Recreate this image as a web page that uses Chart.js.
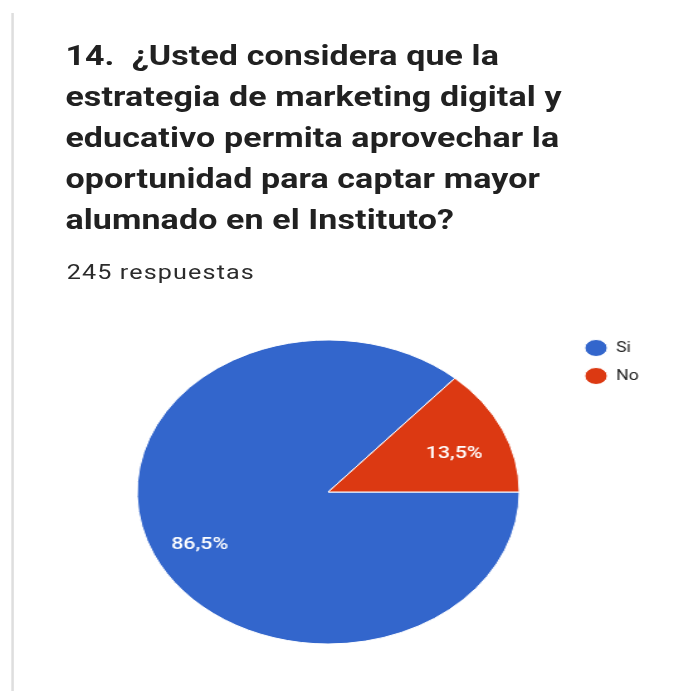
<!DOCTYPE html>
<html>
<head>
<meta charset="utf-8">
<script src="https://cdn.jsdelivr.net/npm/chart.js@4.4.0/dist/chart.umd.min.js"></script>
<style>
  html, body { margin: 0; padding: 0; background: #ffffff; overflow: hidden; }
  #wrap { position: absolute; left: 0; top: 0; width: 544px; height: 691px;
          transform: scale(1.2574, 1); transform-origin: 0 0; }
  #rule { position: absolute; left: 9.4px; top: 13px; width: 1.6px; height: 678px; background: #dedede; }
  #title { position: absolute; left: 52px; top: 36px; margin: 0; white-space: nowrap;
           font-family: Roboto, sans-serif; font-weight: 700; font-size: 27px; line-height: 41px; letter-spacing: 0.1px; color: #212121; }
  #sub { position: absolute; left: 53px; top: 262px; margin: 0; white-space: nowrap;
         font-family: Roboto, sans-serif; font-weight: 400; font-size: 20px; line-height: 20px; letter-spacing: 0.9px; color: #2b2b2b; }
  #box { position: absolute; left: 0; top: 300px; width: 544px; height: 391px; }
</style>
</head>
<body>
<div id="wrap">
  <div id="rule"></div>
  <h1 id="title">14.&nbsp; ¿Usted considera que la<br>estrategia de marketing digital y<br>educativo permita aprovechar la<br>oportunidad para captar mayor<br>alumnado en el Instituto?</h1>
  <p id="sub">245 respuestas</p>
  <div id="box"><canvas id="c"></canvas></div>
</div>
<script>
const categories = ['Si', 'No'];
const responses = [212, 33];
const sliceColors = ['#3366CC', '#DC3912'];

const total = responses.reduce((a, b) => a + b, 0);
const pctText = v => (v / total * 100).toFixed(1).replace('.', ',') + '%';

const sliceLabels = {
  id: 'sliceLabels',
  afterDatasetsDraw(chart) {
    const ctx = chart.ctx;
    const meta = chart.getDatasetMeta(0);
    meta.data.forEach((arc, i) => {
      const p = arc.getProps(['x', 'y', 'startAngle', 'endAngle', 'outerRadius'], true);
      const mid = (p.startAngle + p.endAngle) / 2;
      const r = p.outerRadius * 0.73;
      ctx.save();
      ctx.fillStyle = '#ffffff';
      ctx.font = '500 17px Roboto, sans-serif';
      ctx.textAlign = 'center';
      ctx.textBaseline = 'middle';
      ctx.fillText(pctText(responses[i]), p.x + Math.cos(mid) * r - 1, p.y + Math.sin(mid) * r + 7);
      ctx.restore();
    });
  }
};

new Chart(document.getElementById('c'), {
  type: 'pie',
  data: {
    labels: categories,
    datasets: [{
      data: responses,
      backgroundColor: sliceColors,
      borderColor: '#ffffff',
      borderWidth: 1,
      radius: 152
    }]
  },
  options: {
    responsive: true,
    maintainAspectRatio: false,
    animation: false,
    rotation: 90,
    layout: { padding: { left: 71, right: 26, top: 27, bottom: 34 } },
    plugins: {
      legend: {
        position: 'right',
        align: 'start',
        labels: {
          usePointStyle: true,
          pointStyle: 'circle',
          pointStyleWidth: 18,
          boxHeight: 12,
          padding: 14,
          color: '#222222',
          font: { family: 'Roboto, sans-serif', size: 14 }
        }
      },
      tooltip: { enabled: false }
    }
  },
  plugins: [sliceLabels]
});
</script>
</body>
</html>
